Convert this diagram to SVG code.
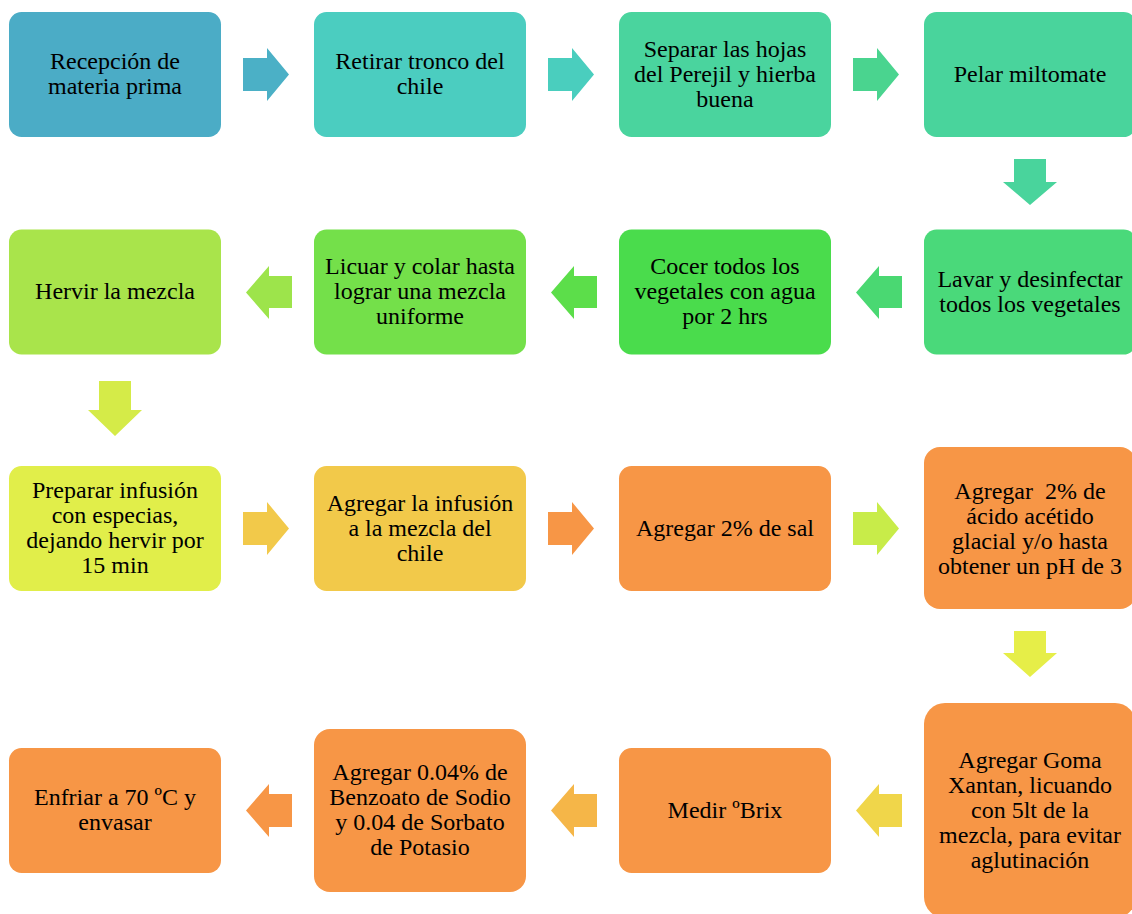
<svg xmlns="http://www.w3.org/2000/svg" width="1132" height="914" viewBox="0 0 1132 914">
  <style>
    .lbl { font-family: "Liberation Serif", "Times New Roman", serif; font-size: 24px; fill: #000; text-anchor: middle; }
    .pre { white-space: pre; }
  </style>
  <rect width="1132" height="914" fill="#ffffff"/>

  <!-- process arrows between steps -->
  <g id="connectors">
    <!-- row 1, left to right -->
    <polygon points="243,58 267,58 267,48 289,74.5 267,101 267,91 243,91" fill="#4BB0C6"/>
    <polygon points="548,58 572,58 572,48 594,74.5 572,101 572,91 548,91" fill="#4ACEBE"/>
    <polygon points="853,58 877,58 877,48 899,74.5 877,101 877,91 853,91" fill="#4AD48F"/>
    <!-- down to row 2 -->
    <polygon points="1014,159 1046,159 1046,182 1057,182 1030,205 1003,182 1014,182" fill="#49D49C"/>
    <!-- row 2, right to left -->
    <polygon points="902,276 879,276 879,266 856,292.5 879,319 879,308 902,308" fill="#4AD872"/>
    <polygon points="597,276 574,276 574,266 551,292.5 574,319 574,308 597,308" fill="#5CDE4A"/>
    <polygon points="292,276 269,276 269,266 246,292.5 269,319 269,308 292,308" fill="#9DE44B"/>
    <!-- down to row 3 -->
    <polygon points="99,381 131,381 131,410 142,410 115,436 88,410 99,410" fill="#D5EB48"/>
    <!-- row 3, left to right -->
    <polygon points="243,512 267,512 267,502 289,528.5 267,555 267,545 243,545" fill="#F2C94A"/>
    <polygon points="548,512 572,512 572,502 594,528.5 572,555 572,545 548,545" fill="#F79646"/>
    <polygon points="853,512 877,512 877,502 899,528.5 877,555 877,545 853,545" fill="#C8EC49"/>
    <!-- down to row 4 -->
    <polygon points="1014,631 1046,631 1046,653 1057,653 1030,677 1003,653 1014,653" fill="#E6EE48"/>
    <!-- row 4, right to left -->
    <polygon points="902,794 879,794 879,784 856,810.5 879,837 879,827 902,827" fill="#F0D64A"/>
    <polygon points="597,794 574,794 574,784 551,810.5 574,837 574,827 597,827" fill="#F5B648"/>
    <polygon points="292,794 269,794 269,784 246,810.5 269,837 269,827 292,827" fill="#F79646"/>
  </g>

  <!-- row 1 -->
  <g id="recepcion">
    <rect x="9" y="12" width="212" height="125" rx="12.5" fill="#4BACC6"/>
    <text class="lbl" x="115" y="69">Recepción de</text>
    <text class="lbl" x="115" y="94">materia prima</text>
  </g>
  <g id="retirar-tronco">
    <rect x="314" y="12" width="212" height="125" rx="12.5" fill="#4BCDC0"/>
    <text class="lbl" x="420" y="69">Retirar tronco del</text>
    <text class="lbl" x="420" y="94">chile</text>
  </g>
  <g id="separar-hojas">
    <rect x="619" y="12" width="212" height="125" rx="12.5" fill="#4AD49E"/>
    <text class="lbl" x="725" y="56.5">Separar las hojas</text>
    <text class="lbl" x="725" y="81.5">del Perejil y hierba</text>
    <text class="lbl" x="725" y="106.5">buena</text>
  </g>
  <g id="pelar-miltomate">
    <rect x="924" y="12" width="212" height="125" rx="12.5" fill="#49D49C"/>
    <text class="lbl" x="1030" y="82">Pelar miltomate</text>
  </g>

  <!-- row 2 -->
  <g id="lavar">
    <rect x="924" y="229.5" width="212" height="125" rx="12.5" fill="#4AD97A"/>
    <text class="lbl" x="1030" y="286.5">Lavar y desinfectar</text>
    <text class="lbl" x="1030" y="311.5">todos los vegetales</text>
  </g>
  <g id="cocer">
    <rect x="619" y="229.5" width="212" height="125" rx="12.5" fill="#4ADC4C"/>
    <text class="lbl" x="725" y="274">Cocer todos los</text>
    <text class="lbl" x="725" y="299">vegetales con agua</text>
    <text class="lbl" x="725" y="324">por 2 hrs</text>
  </g>
  <g id="licuar">
    <rect x="314" y="229.5" width="212" height="125" rx="12.5" fill="#74E04A"/>
    <text class="lbl" x="420" y="274">Licuar y colar hasta</text>
    <text class="lbl" x="420" y="299">lograr una mezcla</text>
    <text class="lbl" x="420" y="324">uniforme</text>
  </g>
  <g id="hervir">
    <rect x="9" y="229.5" width="212" height="125" rx="12.5" fill="#A9E44B"/>
    <text class="lbl" x="115" y="299">Hervir la mezcla</text>
  </g>

  <!-- row 3 -->
  <g id="infusion">
    <rect x="9" y="466" width="212" height="125" rx="12.5" fill="#E1EE4A"/>
    <text class="lbl" x="115" y="498">Preparar infusión</text>
    <text class="lbl" x="115" y="523">con especias,</text>
    <text class="lbl" x="115" y="548">dejando hervir por</text>
    <text class="lbl" x="115" y="573">15 min</text>
  </g>
  <g id="agregar-infusion">
    <rect x="314" y="466" width="212" height="125" rx="12.5" fill="#F2C94A"/>
    <text class="lbl" x="420" y="510.5">Agregar la infusión</text>
    <text class="lbl" x="420" y="535.5">a la mezcla del</text>
    <text class="lbl" x="420" y="560.5">chile</text>
  </g>
  <g id="agregar-sal">
    <rect x="619" y="466" width="212" height="125" rx="12.5" fill="#F79646"/>
    <text class="lbl" x="725" y="536">Agregar 2% de sal</text>
  </g>
  <g id="acido-acetico">
    <rect x="924" y="447" width="212" height="162" rx="16" fill="#F79646"/>
    <text class="lbl pre" x="1030" y="498.5" xml:space="preserve">Agregar  2% de</text>
    <text class="lbl" x="1030" y="523.5">ácido acétido</text>
    <text class="lbl" x="1030" y="548.5">glacial y/o hasta</text>
    <text class="lbl" x="1030" y="573.5">obtener un pH de 3</text>
  </g>

  <!-- row 4 -->
  <g id="goma-xantan">
    <rect x="924" y="703" width="212" height="215" rx="21" fill="#F79646"/>
    <text class="lbl" x="1030" y="768">Agregar Goma</text>
    <text class="lbl" x="1030" y="793">Xantan, licuando</text>
    <text class="lbl" x="1030" y="818">con 5lt de la</text>
    <text class="lbl" x="1030" y="843">mezcla, para evitar</text>
    <text class="lbl" x="1030" y="868">aglutinación</text>
  </g>
  <g id="medir-brix">
    <rect x="619" y="748" width="212" height="125" rx="12.5" fill="#F79646"/>
    <text class="lbl" x="725" y="818">Medir ºBrix</text>
  </g>
  <g id="conservadores">
    <rect x="314" y="729" width="212" height="163" rx="16" fill="#F79646"/>
    <text class="lbl" x="420" y="780">Agregar 0.04% de</text>
    <text class="lbl" x="420" y="805">Benzoato de Sodio</text>
    <text class="lbl" x="420" y="830">y 0.04 de Sorbato</text>
    <text class="lbl" x="420" y="855">de Potasio</text>
  </g>
  <g id="enfriar">
    <rect x="9" y="748" width="212" height="125" rx="12.5" fill="#F79646"/>
    <text class="lbl" x="115" y="805">Enfriar a 70 ºC y</text>
    <text class="lbl" x="115" y="830">envasar</text>
  </g>
</svg>
